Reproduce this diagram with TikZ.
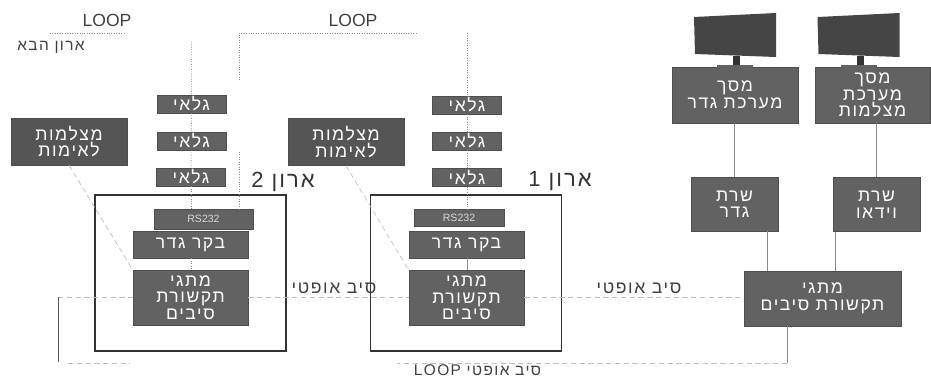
\documentclass[tikz,border=0pt]{standalone}
\usepackage{fontspec}
\setmainfont{Liberation Sans}
\newfontfamily\hebfont[Script=Hebrew,LetterSpace=9]{Liberation Sans}
\TeXXeTstate=1
\newcommand{\heb}[1]{{\hebfont\beginR #1\endR}}
\definecolor{kufsa}{HTML}{626262}
\definecolor{kufsadark}{HTML}{555555}
\definecolor{masach}{HTML}{454545}
\definecolor{kav}{HTML}{8A8A8A}
\begin{document}
\begin{tikzpicture}[
      x=0.02cm, y=-0.02cm,
      every node/.style={font=\fontsize{10pt}{9.4pt}\selectfont, align=center, inner sep=0pt},
      caja/.style={draw=kufsa!80!black, fill=kufsa, text=white, line width=0.3pt},
      galai/.style={caja, minimum width=1.38cm, minimum height=0.36cm},
      matzlema/.style={caja, fill=kufsadark, minimum width=2.32cm, minimum height=0.94cm},
      aron/.style={draw=black!80, line width=0.75pt, minimum width=3.82cm, minimum height=3.12cm},
      rsbox/.style={caja, font=\fontsize{6pt}{7pt}\selectfont, text=white!85!black},
      bakar/.style={caja, minimum width=2.3cm, minimum height=0.54cm},
      matag/.style={caja, minimum width=2.3cm, minimum height=1.1cm},
      sharat/.style={caja, minimum width=1.74cm, minimum height=1.08cm},
      tavit/.style={text=black!75},
      tavitkatan/.style={tavit, font=\fontsize{8.8pt}{10pt}\selectfont},
      mispar/.style={font=\fontsize{12.5pt}{14pt}\selectfont, text=black!80},
      siv/.style={kav!55, densely dashed, line width=0.4pt},
      nekudot/.style={kav, densely dotted, line width=0.4pt},
      kavmale/.style={kav, line width=0.5pt}
    ]
    \useasboundingbox (0,0) rectangle (931,379);
    % ארון 2
    \node[aron] (ar2) at (190.5,273) {};
    \node[galai] (g2a) at (191.5,104) {\heb{גלאי}};
    \node[galai] (g2b) at (191.5,141) {\heb{גלאי}};
    \node[galai] (g2c) at (191,177) {\heb{גלאי}};
    \node[matzlema] (cam2) at (69,141.5) {\heb{מצלמות}\\ \heb{לאימות}};
    \node[rsbox, minimum width=1.98cm, minimum height=0.4cm] (rs2) at (203.5,219) {RS232};
    \node[bakar] (bk2) at (190.5,244.5) {\heb{בקר גדר}};
    \node[matag] (sw2) at (190.5,297.5) {\heb{מתגי}\\ \heb{תקשורת}\\ \heb{סיבים}};
    % ארון 1
    \node[aron] (ar1) at (466,273) {};
    \node[galai] (g1a) at (467,105) {\heb{גלאי}};
    \node[galai] (g1b) at (467,141) {\heb{גלאי}};
    \node[galai] (g1c) at (467,177.5) {\heb{גלאי}};
    \node[matzlema] (cam1) at (346,142) {\heb{מצלמות}\\ \heb{לאימות}};
    \node[rsbox, minimum width=1.8cm, minimum height=0.34cm] (rs1) at (459,218) {RS232};
    \node[bakar] (bk1) at (466.5,244.5) {\heb{בקר גדר}};
    \node[matag] (sw1) at (466.5,298) {\heb{מתגי}\\ \heb{תקשורת}\\ \heb{סיבים}};
    % Control room
    \node[caja, minimum width=2.52cm, minimum height=1.12cm] (msg) at (735,95) {\heb{מסך}\\ \heb{מערכת גדר}};
    \node[caja, minimum width=2.3cm, minimum height=1.12cm] (msc) at (872.5,95) {\heb{מסך}\\ \heb{מערכת}\\ \heb{מצלמות}};
    \node[sharat] (srg) at (734.5,204) {\heb{שרת}\\ \heb{גדר}};
    \node[sharat] (srv) at (876.5,204.5) {\heb{שרת}\\ \heb{וידאו}};
    \node[caja, minimum width=3.14cm, minimum height=1.1cm] (swm) at (822.5,298.5) {\heb{מתגי}\\ \heb{תקשורת סיבים}};
    % Monitors
    \foreach \mx in {0,123.5}{
      \fill[masach] (694+\mx,17) -- (776+\mx,13) -- (776+\mx,57) -- (695+\mx,54) -- cycle;
      \fill[black!80] (733+\mx,56) rectangle (740+\mx,65);
      \fill[kufsa] (717+\mx,65) rectangle (753+\mx,67.5);
    }
    % Labels
    \node[tavit] (lp2) at (107,20) {LOOP};
    \node[tavit] (lp1) at (353,20) {LOOP};
    \node[tavitkatan] (nxt) at (51,47) {\heb{ארון הבא}};
    \node[mispar] (n2) at (283,182) {\heb{ארון \beginL 2\endL}};
    \node[mispar] (n1) at (560,181) {\heb{ארון \beginL 1\endL}};
    \node[tavit] (sv2) at (334,288) {\heb{סיב אופטי}};
    \node[tavit] (sv1) at (639,288) {\heb{סיב אופטי}};
    \node[tavitkatan] (svl) at (477.5,370.5) {\heb{סיב אופטי \beginL LOOP\endL}};
    % Free ends
    \coordinate (t2) at (g2a.north |- 0,42);
    \coordinate (t1) at (g1a.north |- 0,33);
    \coordinate (tl) at (239,33);
    \coordinate (tm) at (239,80);
    \coordinate (tb) at (239,152);
    \coordinate (tr) at (416,33);
    \coordinate (ll) at (50,33);
    \coordinate (lr) at (125,33);
    \coordinate (fl) at (58,297);
    \coordinate (fd) at (58,362);
    \coordinate (be) at (130,363);
    \coordinate (bs) at (68,363);
    \coordinate (bm) at (397,363);
    \coordinate (bk) at (787,363);
    % Detector lines
    \draw[nekudot] (t2) -- (g2a) -- (g2b) -- (g2c);
    \draw[nekudot] (g2c.south) -- (g2c.south |- rs2.north);
    \draw[nekudot] (g2c.south |- bk2.south) -- (g2c.south |- sw2.north);
    \draw[nekudot] (t1) -- (g1a) -- (g1b) -- (g1c);
    \draw[nekudot] (g1c.south) -- (g1c.south |- rs1.north);
    \draw[kavmale] (g1c.south |- bk1.south) -- (g1c.south |- sw1.north);
    % LOOP lines
    \draw[nekudot] (ll) -- (lr);
    \draw[nekudot] (tm) -- (tl) -- (tr);
    \draw[nekudot] (tb) -- (tb |- rs2.north);
    % Cameras
    \draw[siv] (cam2.south) -- (sw2.north west);
    \draw[siv] (cam1.south) -- (sw1.north west);
    % Fibre
    \draw[siv] (fl) -- (sw2.west |- fl);
    \draw[siv] (sw2.east |- fl) -- (sw1.west |- fl);
    \draw[siv] (sw1.east |- fl) -- (swm.west |- fl);
    \draw[kavmale, black!65] (fl) -- (fd);
    \draw[siv] (bs) -- (be);
    \draw[kavmale] (swm.south -| bk) -- (bk);
    \draw[siv] (bk) -- (bm);
    % Control room lines
    \draw[kavmale] (msg.south -| srg.north) -- (srg.north);
    \draw[kavmale] (msc.south -| srv.north) -- (srv.north);
    \draw[kavmale] (srg.south -| 767,0) -- (swm.north -| 767,0);
    \draw[kavmale] (srv.south -| 835,0) -- (swm.north -| 835,0);
\end{tikzpicture}
\end{document}
